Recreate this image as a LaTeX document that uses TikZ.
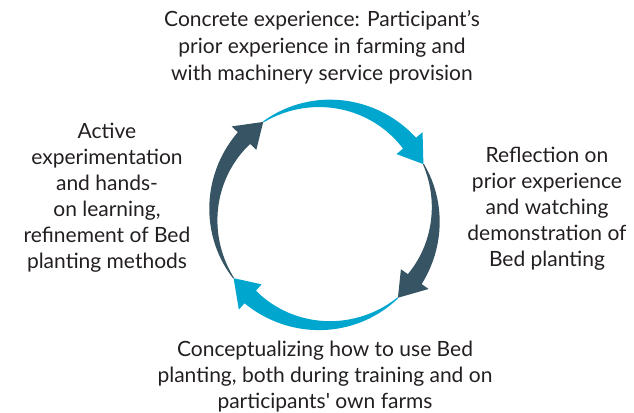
\documentclass[tikz,border=0pt]{standalone}
\usepackage{fontspec}
\setmainfont{Lato}
\usepackage{tikz}
\usetikzlibrary{positioning}

\definecolor{cycleblue}{RGB}{0,166,206}
\definecolor{cycledark}{RGB}{54,84,99}
\definecolor{textgray}{RGB}{35,31,32}

% radius of the cycle, in px
\newcommand{\cycR}{111}
% tapered arc arrow: colour, tail angle, tip angle (clockwise)
\newcommand{\cyclearrow}[3]{%
  \pgfmathsetmacro{\baseA}{#3+13}%
  \fill[#1,shift={(ctr)}]
    plot[domain=#2:\baseA,samples=50]
      ({(\cycR+(1+16*(\x-(#2))/(\baseA-(#2)))/2)*cos(\x)},
       {(\cycR+(1+16*(\x-(#2))/(\baseA-(#2)))/2)*sin(\x)})
    -- ({\baseA}:{\cycR+17}) -- ({#3}:{\cycR}) -- ({\baseA}:{\cycR-17})
    -- plot[domain=\baseA:#2,samples=50]
      ({(\cycR-(1+16*(\x-(#2))/(\baseA-(#2)))/2)*cos(\x)},
       {(\cycR-(1+16*(\x-(#2))/(\baseA-(#2)))/2)*sin(\x)})
    -- cycle;
}

\begin{document}
\begin{tikzpicture}[x=1pt,y=1pt,
                    every node/.style={align=center,inner sep=0pt,text=textgray,
                      font=\fontsize{21}{26}\selectfont}]
  \useasboundingbox (0,0) rectangle (634,412);
  \coordinate (ctr) at (324.5,197.5);

  \node (concrete) at (322,365)
    {Concrete experience: Participant's\\[1pt] prior experience in farming and\\[1pt] with machinery service provision};
  \node (reflection) at (547,203)
    {Reflection on\\ prior experience\\ and watching\\ demonstration of\\ Bed planting};
  \node (concept) at (325,35)
    {Conceptualizing how to use Bed\\ planting, both during training and on\\ participants\textquotesingle\ own farms};
  \node (active) at (107,214.5)
    {Active\\ experimentation\\ and hands-\\ on learning,\\ refinement of Bed\\ planting methods};

  \cyclearrow{cycleblue}{123.5}{27}
  \cyclearrow{cycledark}{27}{-48.6}
  \cyclearrow{cycleblue}{-48.6}{-145}
  \cyclearrow{cycledark}{-145}{-236.5}
\end{tikzpicture}
\end{document}
